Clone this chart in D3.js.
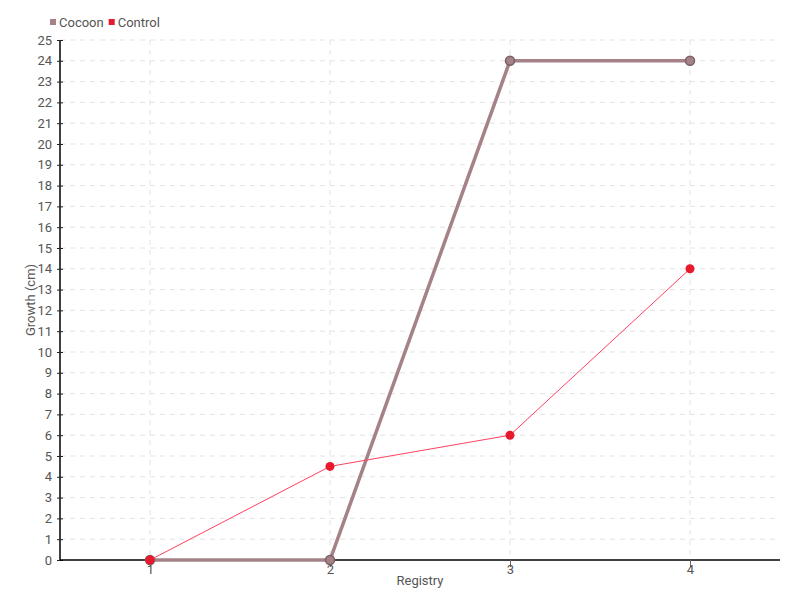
<!DOCTYPE html>
<html>
<head>
<meta charset="utf-8">
<script src="https://cdn.jsdelivr.net/npm/d3@7"></script>
<style>
  body { margin: 0; background: #fff; }
  svg text { font-family: Roboto, "DejaVu Sans", sans-serif; }
</style>
</head>
<body>
<div id="chart"></div>
<script>
// ── Data ─────────────────────────────────────────────────────
const registry = [1, 2, 3, 4];
const cocoon   = [0, 0, 24, 24];
const control  = [0, 4.5, 6, 14];
const yTicks   = d3.range(0, 26);

const COLORS = { Cocoon: '#a48287', Control: '#e8192c' };

const width = 800, height = 600;
const margin = { top: 40, right: 20, bottom: 40, left: 60 };

const svg = d3.select('#chart').append('svg')
  .attr('width', width).attr('height', height);

const x = d3.scaleLinear().domain([0.5, 4.5]).range([margin.left, width - margin.right]);
const y = d3.scaleLinear().domain([0, 25]).range([height - margin.bottom, margin.top]);

// ── Grid ─────────────────────────────────────────────────────
const grid = svg.append('g').attr('stroke', '#e3e3e3').attr('stroke-dasharray', '5,5');
grid.selectAll('.h').data(yTicks.filter(d => d > 0)).join('line')
  .attr('x1', margin.left).attr('x2', width - margin.right)
  .attr('y1', d => y(d)).attr('y2', d => y(d));
grid.selectAll('.v').data(registry).join('line')
  .attr('x1', d => x(d)).attr('x2', d => x(d))
  .attr('y1', margin.top).attr('y2', height - margin.bottom);

// ── Axes ─────────────────────────────────────────────────────
const yAxis = svg.append('g')
  .attr('transform', `translate(${margin.left},0)`)
  .call(d3.axisLeft(y).tickValues(yTicks).tickFormat(d3.format('d')).tickSize(4).tickPadding(4));
yAxis.selectAll('.tick line').attr('x2', 3).attr('x1', -3).attr('stroke', '#222');

const xAxis = svg.append('g')
  .attr('transform', `translate(0,${height - margin.bottom})`)
  .call(d3.axisBottom(x).tickValues(registry).tickFormat(d3.format('d')).tickSize(7).tickPadding(-2));
xAxis.selectAll('.tick line').attr('stroke', '#666');

[yAxis, xAxis].forEach(a => {
  a.select('.domain').attr('stroke', '#000').attr('stroke-width', 1.5);
  a.selectAll('.tick text').attr('fill', '#555').attr('font-size', 13).attr('font-family', null);
});
xAxis.select('.domain').attr('d', `M${margin.left},0H${width - margin.right}`);
yAxis.select('.domain').attr('d', `M0,${margin.top}V${height - margin.bottom}`);

// axis titles
svg.append('text')
  .attr('x', (margin.left + width - margin.right) / 2).attr('y', 585)
  .attr('text-anchor', 'middle').attr('fill', '#555').attr('font-size', 13)
  .text('Registry');
svg.append('text')
  .attr('transform', `translate(35,${(margin.top + height - margin.bottom) / 2}) rotate(-90)`)
  .attr('text-anchor', 'middle').attr('fill', '#555').attr('font-size', 13)
  .text('Growth (cm)');

// ── Series ───────────────────────────────────────────────────
const line = d3.line().x((d, i) => x(registry[i])).y(d => y(d));

svg.append('path').datum(cocoon)
  .attr('d', line).attr('fill', 'none')
  .attr('stroke', COLORS.Cocoon).attr('stroke-width', 3.5);
svg.append('g').selectAll('circle').data(cocoon).join('circle')
  .attr('cx', (d, i) => x(registry[i])).attr('cy', d => y(d)).attr('r', 4.5)
  .attr('fill', COLORS.Cocoon).attr('stroke', '#7d5f64').attr('stroke-width', 1.5);

svg.append('path').datum(control)
  .attr('d', line).attr('fill', 'none')
  .attr('stroke', '#ff4060').attr('stroke-width', 1);
svg.append('g').selectAll('circle').data(control).join('circle')
  .attr('cx', (d, i) => x(registry[i])).attr('cy', d => y(d)).attr('r', 4.5)
  .attr('fill', COLORS.Control);

// ── Legend ───────────────────────────────────────────────────
const legend = svg.append('g').attr('transform', 'translate(50,22)');
let lx = 0;
Object.entries(COLORS).forEach(([name, color]) => {
  legend.append('rect').attr('x', lx).attr('y', -3).attr('width', 6).attr('height', 6).attr('fill', color);
  const t = legend.append('text').attr('x', lx + 9).attr('y', 0).attr('dy', '0.35em')
    .attr('fill', '#555').attr('font-size', 13).text(name);
  lx += 9 + t.node().getComputedTextLength() + 5;
});
</script>
</body>
</html>
